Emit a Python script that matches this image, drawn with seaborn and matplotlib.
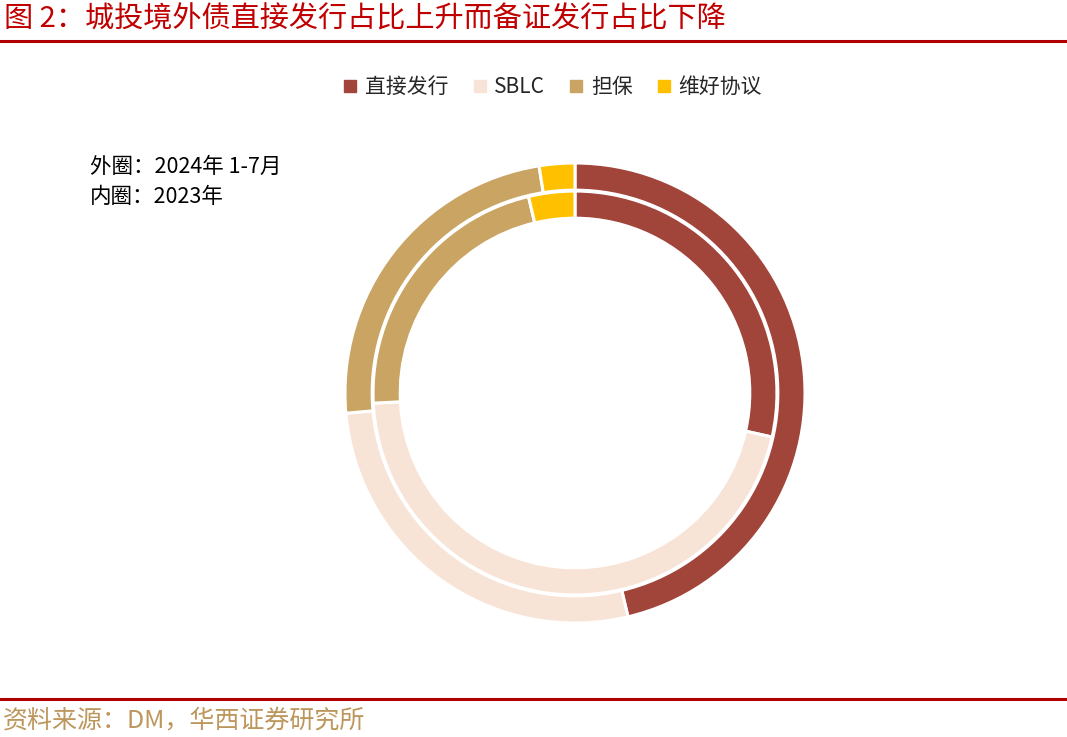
import matplotlib
matplotlib.use("Agg")
import matplotlib.pyplot as plt
from matplotlib.lines import Line2D
import seaborn as sns

categories = ["直接发行", "SBLC", "担保", "维好协议"]
outer_2024 = [46.3, 27.3, 23.9, 2.5]
inner_2023 = [28.5, 45.7, 22.1, 3.7]
colors = ["#A1443A", "#F8E3D7", "#C9A462", "#FFC000"]

title = "图 2：城投境外债直接发行占比上升而备证发行占比下降"
note_lines = ["外圈：2024年 1-7月", "内圈：2023年"]
source = "资料来源：DM，华西证券研究所"

sns.set_theme(style="white")
plt.rcParams['font.family'] = ['Noto Sans CJK SC', 'DejaVu Sans']

W, H = 1067, 737
fig = plt.figure(figsize=(W / 100, H / 100), dpi=100)

# title and rules
fig.text(4 / W, 1 - 19 / H, title, fontsize=21, color="#C00000", va="center", ha="left")
fig.add_artist(Line2D([0, 1], [1 - 41 / H, 1 - 41 / H], color="#B00000", lw=2.2))
fig.add_artist(Line2D([0, 1], [1 - 699 / H, 1 - 699 / H], color="#B00000", lw=2.2))
fig.text(3 / W, 1 - 720 / H, source, fontsize=18, color="#BD965C", va="center", ha="left")

# notes
fig.text(90 / W, 1 - 167 / H, note_lines[0], fontsize=15.5, color="black", va="center", ha="left")
fig.text(90 / W, 1 - 197 / H, note_lines[1], fontsize=15.5, color="black", va="center", ha="left")

# donut axes
cx, cy, R = 575, 393, 230
ax = fig.add_axes([(cx - R) / W, (H - cy - R) / H, 2 * R / W, 2 * R / H])
wp = dict(edgecolor="white", linewidth=2.2)
ax.pie(outer_2024, radius=1.0, colors=colors, startangle=90, counterclock=False,
       wedgeprops=dict(width=0.118, **wp))
ax.pie(inner_2023, radius=0.878, colors=colors, startangle=90, counterclock=False,
       wedgeprops=dict(width=0.118, **wp))
ax.set_xlim(-1, 1)
ax.set_ylim(-1, 1)
ax.set_aspect("equal")
ax.axis("off")

handles = [Line2D([0], [0], marker="s", linestyle="none", markersize=8,
                  markerfacecolor=c, markeredgecolor=c) for c in colors]
fig.legend(handles, categories, loc="center", bbox_to_anchor=(552 / W, 1 - 87 / H),
           ncol=4, frameon=False, fontsize=15, handletextpad=0.3, columnspacing=1.1,
           handlelength=0.8)

fig.savefig("out.png", dpi=100, facecolor="white")
